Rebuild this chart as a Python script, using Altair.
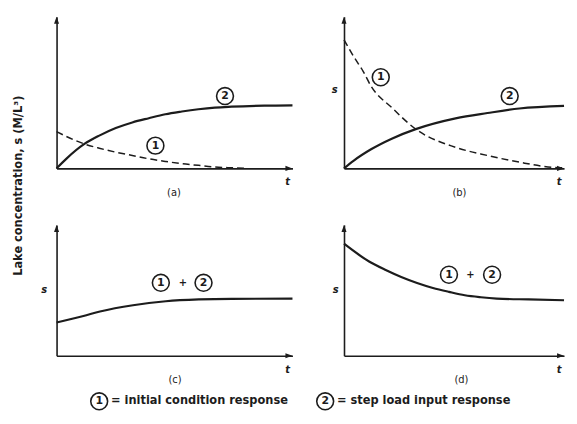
import altair as alt
import pandas as pd

# ---------------- data (t and s in % of each panel's axis length) ----------------
# (a) step load response (2) and initial condition response (1)
a_t_step = [0, 4.1, 11.8, 18.1, 25.1, 32.1, 39.1, 46.1, 53.1, 60.1, 67.1, 74.1, 88.1, 100]
a_step = [0, 6.3, 16.1, 21.6, 26.6, 30.3, 33.1, 35.7, 37.5, 39.0, 40.1, 40.7, 41.4, 41.6]
a_t_init = [0, 11.8, 18.1, 25.1, 32.1, 39.1, 46.1, 53.1, 60.1, 67.1, 74.1, 81.1]
a_init = [24.2, 16.1, 13.3, 10.7, 8.5, 6.3, 4.6, 3.1, 2.0, 0.9, 0.4, 0]

# (b)
b_t_step = [0, 4.3, 12.3, 21.7, 32.6, 50.7, 65.2, 79.7, 100]
b_step = [0, 5.0, 12.6, 19.6, 25.9, 33.0, 36.5, 39.5, 41.2]
b_t_init = [0, 4.3, 8.7, 12.3, 21.7, 32.6, 50.7, 65.2, 79.7, 94.2, 100]
b_init = [84.8, 74.0, 64.0, 54.2, 40.1, 25.9, 13.9, 8.5, 4.1, 0.8, 0.4]

# (c) sum (1)+(2)
c_t = [0, 11.4, 18.4, 32.4, 46.3, 60.3, 74.2, 100]
c_s = [25.4, 30.4, 33.8, 38.6, 41.6, 43.0, 43.5, 43.6]

# (d) sum (1)+(2)
d_t = [0, 11.4, 18.7, 26.0, 33.2, 40.4, 47.7, 54.9, 62.2, 69.4, 83.9, 100]
d_s = [85.6, 72.0, 65.7, 60.2, 55.6, 51.8, 48.8, 46.2, 44.7, 43.7, 43.0, 42.4]

# circled curve labels: (t, s, number)
a_marks = [(71.4, 47.7, "2"), (41.9, 15.0, "1")]
b_marks = [(16.7, 60.1, "1"), (75.3, 47.7, "2")]
c_marks = [(44.2, 55.7, "1"), (62.3, 55.7, "2")]
c_plus = [(53.6, 55.7)]
d_marks = [(47.7, 61.9, "1"), (67.3, 61.9, "2")]
d_plus = [(57.5, 61.9)]

captions = ["(a)", "(b)", "(c)", "(d)"]
legend_keys = ["1", "2"]
legend_texts = ["= initial condition response", "= step load input response"]
y_title = "Lake concentration, s (M/L³)"

# ---------------- styling ----------------
INK = "#1c1c1c"
FONT = "DejaVu Sans"
UP = "M0,0L0.36,1L-0.36,1Z"
RIGHT = "M0,0L-1,-0.36L-1,0.36Z"


def df_line(t, s):
    return pd.DataFrame({"x": t, "y": s})


def panel(width, height, solid, dashed, marks, plus, caption, cap_x, ytitle, ytx, yty,
          yangle, yfont, yweight, ystyle):
    xs = alt.Scale(domain=[0, 100], nice=False, zero=False)
    ys = alt.Scale(domain=[0, 100], nice=False, zero=False)
    xaxis = alt.Axis(title=caption, titleFont=FONT, titleFontSize=10, titleFontWeight="normal",
                     titleColor=INK, titleBaseline="middle", titleAlign="center",
                     titleX=cap_x, titleY=24, domain=True, domainColor=INK, domainWidth=1.6,
                     ticks=False, labels=False, grid=False)
    yaxis = alt.Axis(title=ytitle, titleFont=FONT, titleFontSize=yfont, titleFontWeight=yweight,
                     titleFontStyle=ystyle, titleColor=INK, titleBaseline="middle",
                     titleAlign="center", titleX=ytx, titleY=yty, titleAngle=yangle,
                     domain=True, domainColor=INK, domainWidth=1.6,
                     ticks=False, labels=False, grid=False)
    X = alt.X("x:Q", scale=xs, axis=xaxis)
    Y = alt.Y("y:Q", scale=ys, axis=yaxis)

    layers = [alt.Chart(solid).mark_line(color=INK, strokeWidth=2.2, interpolate="monotone")
              .encode(x=X, y=Y)]
    if dashed is not None:
        layers.append(alt.Chart(dashed).mark_line(color=INK, strokeWidth=1.5, strokeDash=[7, 4],
                                                  interpolate="monotone").encode(x=X, y=Y))
    # arrowheads at the axis ends
    layers.append(alt.Chart(pd.DataFrame({"x": [0], "y": [100]}))
                  .mark_point(shape=UP, filled=True, size=200, color=INK, opacity=1)
                  .encode(x=X, y=Y))
    layers.append(alt.Chart(pd.DataFrame({"x": [100], "y": [0]}))
                  .mark_point(shape=RIGHT, filled=True, size=200, color=INK, opacity=1)
                  .encode(x=X, y=Y))
    # "t" at the end of the time axis
    layers.append(alt.Chart(pd.DataFrame({"x": [100], "y": [0], "lab": ["t"]}))
                  .mark_text(font=FONT, fontSize=10, fontStyle="italic", fontWeight="bold",
                             color=INK, dx=-5, dy=14)
                  .encode(x=X, y=Y, text="lab:N"))
    mdf = pd.DataFrame(marks, columns=["x", "y", "n"])
    layers.append(alt.Chart(mdf).mark_point(shape="circle", filled=False, size=290,
                                            strokeWidth=1.6, color=INK, opacity=1)
                  .encode(x=X, y=Y))
    layers.append(alt.Chart(mdf).mark_text(font=FONT, fontSize=11, fontWeight="bold", color=INK,
                                           baseline="middle", align="center")
                  .encode(x=X, y=Y, text="n:N"))
    if plus:
        pdf = pd.DataFrame(plus, columns=["x", "y"]).assign(lab="+")
        layers.append(alt.Chart(pdf).mark_text(font=FONT, fontSize=10, fontWeight="bold",
                                               color=INK, baseline="middle")
                      .encode(x=X, y=Y, text="lab:N"))
    return alt.layer(*layers).properties(width=width, height=height)


WL, WR = 238, 222
H1, H2 = 153, 132

pa = panel(WL, H1, df_line(a_t_step, a_step), df_line(a_t_init, a_init), a_marks, None,
           captions[0], 118, y_title, -38, 170, 270, 11.5, "bold", "normal")
pb = panel(WR, H1, df_line(b_t_step, b_step), df_line(b_t_init, b_init), b_marks, None,
           captions[1], 116, "s", -10, 73, 0, 10, "bold", "italic")
pc = panel(WL, H2, df_line(c_t, c_s), None, c_marks, c_plus,
           captions[2], 119, "s", -13, 65, 0, 10, "bold", "italic")
pd_ = panel(WR, H2, df_line(d_t, d_s), None, d_marks, d_plus,
            captions[3], 118, "s", -9, 65, 0, 10, "bold", "italic")


def legend_cell(width, key, text, cx):
    ldf = pd.DataFrame({"n": [key], "txt": [text]})
    base = alt.Chart(ldf)
    circ = base.mark_point(shape="circle", filled=False, size=290, strokeWidth=1.6,
                           color=INK, opacity=1).encode(x=alt.value(cx), y=alt.value(-11))
    num = base.mark_text(font=FONT, fontSize=11, fontWeight="bold", color=INK,
                         baseline="middle").encode(x=alt.value(cx), y=alt.value(-11), text="n:N")
    lab = base.mark_text(font=FONT, fontSize=11.5, fontWeight="bold", color=INK, align="left",
                         baseline="middle").encode(x=alt.value(cx + 12), y=alt.value(-11),
                                                   text="txt:N")
    return alt.layer(circ, num, lab).properties(width=width, height=1)


leg1 = legend_cell(WL, legend_keys[0], legend_texts[0], 43)
leg2 = legend_cell(WR, legend_keys[1], legend_texts[1], -19)

chart = alt.concat(pa, pb, pc, pd_, leg1, leg2, columns=2,
                   spacing={"row": 57, "column": 52}, bounds="flush").properties(
    padding={"left": 5, "top": 7, "right": 0, "bottom": 0},
    background="white",
).configure_view(strokeWidth=0)

chart.save("out.html", embed_options={"renderer": "svg", "actions": False})
